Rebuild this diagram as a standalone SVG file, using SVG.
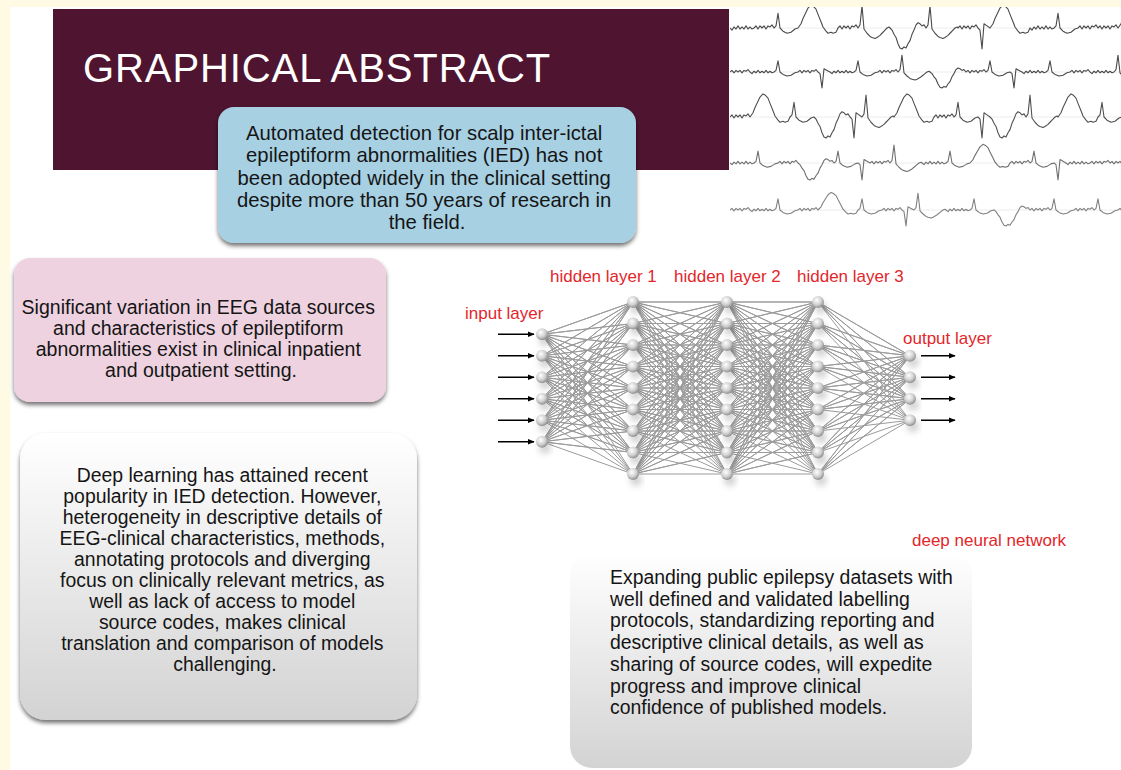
<svg xmlns="http://www.w3.org/2000/svg" width="1121" height="770" viewBox="0 0 1121 770">
<style>
.body{font-family:"Liberation Sans",Arial,sans-serif;fill:#151515}
.red{font-family:"Liberation Sans",Arial,sans-serif;font-size:17px;fill:#e3262b}
.ln{fill:none;stroke:#9b9b9b;stroke-width:1;stroke-linejoin:round;vector-effect:non-scaling-stroke}
.eeg{fill:none;stroke-width:1.1;stroke-linejoin:round;vector-effect:non-scaling-stroke}
.arr{stroke:#000;stroke-width:1.4;marker-end:url(#ah)}
.grid{stroke:#ececec;stroke-width:1}
</style>
<defs>
<filter id="sh" x="-5%" y="-5%" width="110%" height="115%">
<feDropShadow dx="0" dy="3" stdDeviation="2" flood-color="#000" flood-opacity="0.55"/>
</filter>
<filter id="nsh" x="-50%" y="-50%" width="200%" height="200%">
<feDropShadow dx="3" dy="6" stdDeviation="3" flood-color="#000" flood-opacity="0.18"/>
</filter>
<linearGradient id="gg" x1="0" y1="0" x2="0" y2="1">
<stop offset="0" stop-color="#ffffff"/>
<stop offset="1" stop-color="#d3d3d3"/>
</linearGradient>
<radialGradient id="ng" cx="0.4" cy="0.35" r="0.7">
<stop offset="0" stop-color="#ffffff"/>
<stop offset="0.55" stop-color="#d0d0d0"/>
<stop offset="1" stop-color="#858585"/>
</radialGradient>
<circle id="nd" r="6" fill="url(#ng)"/>
<marker id="ah" viewBox="0 0 10 10" refX="9" refY="5" markerWidth="5" markerHeight="5" orient="auto" markerUnits="strokeWidth">
<path d="M0 1L10 5L0 9z" fill="#000"/>
</marker>
<clipPath id="ec"><rect x="730" y="7" width="391" height="243"/></clipPath>
</defs>

<rect x="0" y="0" width="1121" height="770" fill="#fffae4"/>
<rect x="10" y="7" width="1111" height="763" fill="#ffffff"/>

<g id="title">
<rect x="53" y="9" width="676" height="161" fill="#4e1430"/>
<text x="83" y="82" font-family="Liberation Sans, Arial, sans-serif" font-size="40" fill="#ffffff" letter-spacing="0.9">GRAPHICAL ABSTRACT</text>
</g>

<g id="eeg" clip-path="url(#ec)">
<line class="grid" x1="730" y1="28" x2="1121" y2="28"/>
<line class="grid" x1="730" y1="72" x2="1121" y2="72"/>
<line class="grid" x1="730" y1="117" x2="1121" y2="117"/>
<line class="grid" x1="730" y1="163" x2="1121" y2="163"/>
<line class="grid" x1="730" y1="210" x2="1121" y2="210"/>
<g transform="translate(0,28) scale(1,1.05)"><path class="eeg" stroke="#4a4a4a" d="M730 0l2 2 2 -3 2 2 2 -3 2 3 2 -2 2 2 2 -3 2 3 2 -2 2 2 2 -1l2 -2 2 3 2 -3 2 2 2 -2 2 3 2 -3 2 1 2 -2 2 3l2 -2 2 -12 2 14 3 3 4 2 4 -1 4 -3 3 -1l3 -4 2 -5 3 -6 2 -4 3 -3 2 1 3 3 2 5 3 7 2 5 3 4 2 2 3 -1 2 1 3 -1 2 -4l2 -2 2 3 2 -3 2 2 2 -2 2 3 2 -3 2 1 2 -2 2 3l2 -3 2 -18 2 22 3 4 3 3 2 1 3 1 2 -1 3 -2 2 -2 3 -3 2 -2 2 -1 1 1l2 2 2 4 2 3 2 6 2 4 2 1 2 -2 2 1 2 -4 2 -3 2 -6 2 -4 2 -5 2 -2 2 1 2 2 2 -1 2 3l2 -3 2 -18 2 22 3 4 3 3 2 1 3 1 2 -1 3 -2 2 -2 3 -3 2 -2 2 -1 1 1l2 -2 2 3 2 -3 2 2 2 -2 2 3 2 -3 2 1 2 -2 2 3l2 2 2 18 2 -24 3 2 3 2l3 -4 2 -5 3 -6 2 -4 3 -3 2 1 3 3 2 5 3 7 2 5 3 4 2 2 3 -1 2 1 3 -1 2 -4l2 2 2 -3 2 2 2 -3 2 3 2 -2 2 2 2 -3 2 3 2 -2 2 2 2 -1l2 -2 2 -12 2 14 3 3 4 2 4 -1 4 -3 3 -1l2 -2 2 3 2 -3 2 2 2 -2 2 3 2 -3 2 1 2 -2 2 3l2 -2 2 3 2 -3 2 2 2 -2 2 3 2 -3 2 1 2 -2 2 3l3 -4 2 -5 3 -6 2 -4 3 -3 2 1 3 3 2 5 3 7 2 5 3 4 2 2 3 -1 2 1 3 -1 2 -4"/></g>
<g transform="translate(0,72) scale(1,0.8)"><path class="eeg" stroke="#4a4a4a" d="M730 0l2 -2 2 3 2 -3 2 2 2 -2 2 3 2 -3 2 1 2 -2 2 3l2 2 2 -3 2 2 2 -3 2 3 2 -2 2 2 2 -3 2 3 2 -2 2 2 2 -1l2 -2 2 -12 2 14 3 3 4 2 4 -1 4 -3 3 -1l2 -2 2 3 2 -3 2 2 2 -2 2 3 2 -3 2 1 2 -2 2 3l2 2 2 18 2 -24 3 2 3 2l2 2 2 -3 2 2 2 -3 2 3 2 -2 2 2 2 -3 2 3 2 -2 2 2 2 -1l2 -2 2 -12 2 14 3 3 4 2 4 -1 4 -3 3 -1l2 -2 2 3 2 -3 2 2 2 -2 2 3 2 -3 2 1 2 -2 2 3l2 -3 2 -18 2 22 3 4 3 3 2 1 3 1 2 -1 3 -2 2 -2 3 -3 2 -2 2 -1 1 1l2 2 2 4 2 3 2 6 2 4 2 1 2 -2 2 1 2 -4 2 -3 2 -6 2 -4 2 -5 2 -2 2 1 2 2 2 -1 2 3l2 -2 2 3 2 -3 2 2 2 -2 2 3 2 -3 2 1 2 -2 2 3l2 -2 2 -12 2 14 3 3 4 2 4 -1 4 -3 3 -1l2 2 2 18 2 -24 3 2 3 2l2 2 2 -3 2 2 2 -3 2 3 2 -2 2 2 2 -3 2 3 2 -2 2 2 2 -1l2 -2 2 -12 2 14 3 3 4 2 4 -1 4 -3 3 -1l2 -2 2 3 2 -3 2 2 2 -2 2 3 2 -3 2 1 2 -2 2 3l2 2 2 -3 2 2 2 -3 2 3 2 -2 2 2 2 -3 2 3 2 -2 2 2 2 -1l2 -3 2 -18 2 22 3 4 3 3 2 1 3 1 2 -1 3 -2 2 -2 3 -3 2 -2 2 -1 1 1"/></g>
<g transform="translate(0,117) scale(1,1.05)"><path class="eeg" stroke="#505050" d="M730 0l2 -2 2 3 2 -3 2 2 2 -2 2 3 2 -3 2 1 2 -2 2 3l3 -4 2 -5 3 -6 2 -4 3 -3 2 1 3 3 2 5 3 7 2 5 3 4 2 2 3 -1 2 1 3 -1 2 -4l2 -2 2 -12 2 14 3 3 4 2 4 -1 4 -3 3 -1l2 2 2 4 2 3 2 6 2 4 2 1 2 -2 2 1 2 -4 2 -3 2 -6 2 -4 2 -5 2 -2 2 1 2 2 2 -1 2 3l2 2 2 18 2 -24 3 2 3 2l2 -3 2 -18 2 22 3 4 3 3 2 1 3 1 2 -1 3 -2 2 -2 3 -3 2 -2 2 -1 1 1l3 -4 2 -5 3 -6 2 -4 3 -3 2 1 3 3 2 5 3 7 2 5 3 4 2 2 3 -1 2 1 3 -1 2 -4l2 -2 2 3 2 -3 2 2 2 -2 2 3 2 -3 2 1 2 -2 2 3l2 -2 2 -12 2 14 3 3 4 2 4 -1 4 -3 3 -1l2 2 2 18 2 -24 3 2 3 2l2 2 2 4 2 3 2 6 2 4 2 1 2 -2 2 1 2 -4 2 -3 2 -6 2 -4 2 -5 2 -2 2 1 2 2 2 -1 2 3l2 -3 2 -18 2 22 3 4 3 3 2 1 3 1 2 -1 3 -2 2 -2 3 -3 2 -2 2 -1 1 1l3 -4 2 -5 3 -6 2 -4 3 -3 2 1 3 3 2 5 3 7 2 5 3 4 2 2 3 -1 2 1 3 -1 2 -4l2 -2 2 -12 2 14 3 3 4 2 4 -1 4 -3 3 -1l2 2 2 18 2 -24 3 2 3 2l2 -2 2 3 2 -3 2 2 2 -2 2 3 2 -3 2 1 2 -2 2 3"/></g>
<g transform="translate(0,163) scale(1,0.85)"><path class="eeg" stroke="#707070" d="M730 0l2 2 2 -3 2 2 2 -3 2 3 2 -2 2 2 2 -3 2 3 2 -2 2 2 2 -1l2 -2 2 -12 2 14 3 3 4 2 4 -1 4 -3 3 -1l2 -2 2 3 2 -3 2 2 2 -2 2 3 2 -3 2 1 2 -2 2 3l2 2 2 4 2 3 2 6 2 4 2 1 2 -2 2 1 2 -4 2 -3 2 -6 2 -4 2 -5 2 -2 2 1 2 2 2 -1 2 3l2 -2 2 -12 2 14 3 3 4 2 4 -1 4 -3 3 -1l2 2 2 18 2 -24 3 2 3 2l2 -2 2 3 2 -3 2 2 2 -2 2 3 2 -3 2 1 2 -2 2 3l2 -3 2 -18 2 22 3 4 3 3 2 1 3 1 2 -1 3 -2 2 -2 3 -3 2 -2 2 -1 1 1l2 2 2 -3 2 2 2 -3 2 3 2 -2 2 2 2 -3 2 3 2 -2 2 2 2 -1l2 -2 2 -12 2 14 3 3 4 2 4 -1 4 -3 3 -1l3 -4 2 -5 3 -6 2 -4 3 -3 2 1 3 3 2 5 3 7 2 5 3 4 2 2 3 -1 2 1 3 -1 2 -4l2 -2 2 3 2 -3 2 2 2 -2 2 3 2 -3 2 1 2 -2 2 3l2 -2 2 -12 2 14 3 3 4 2 4 -1 4 -3 3 -1l2 2 2 18 2 -24 3 2 3 2l2 2 2 -3 2 2 2 -3 2 3 2 -2 2 2 2 -3 2 3 2 -2 2 2 2 -1l2 -2 2 3 2 -3 2 2 2 -2 2 3 2 -3 2 1 2 -2 2 3l2 -2 2 3 2 -3 2 2 2 -2 2 3 2 -3 2 1 2 -2 2 3"/></g>
<g transform="translate(0,210) scale(1,0.8)"><path class="eeg" stroke="#808080" d="M730 0l2 -2 2 3 2 -3 2 2 2 -2 2 3 2 -3 2 1 2 -2 2 3l2 2 2 -3 2 2 2 -3 2 3 2 -2 2 2 2 -3 2 3 2 -2 2 2 2 -1l2 -2 2 -12 2 14 3 3 4 2 4 -1 4 -3 3 -1l2 -2 2 3 2 -3 2 2 2 -2 2 3 2 -3 2 1 2 -2 2 3l3 -4 2 -5 3 -6 2 -4 3 -3 2 1 3 3 2 5 3 7 2 5 3 4 2 2 3 -1 2 1 3 -1 2 -4l2 -2 2 -12 2 14 3 3 4 2 4 -1 4 -3 3 -1l2 -2 2 3 2 -3 2 2 2 -2 2 3 2 -3 2 1 2 -2 2 3l2 2 2 18 2 -24 3 2 3 2l2 -3 2 -18 2 22 3 4 3 3 2 1 3 1 2 -1 3 -2 2 -2 3 -3 2 -2 2 -1 1 1l2 2 2 -3 2 2 2 -3 2 3 2 -2 2 2 2 -3 2 3 2 -2 2 2 2 -1l2 -2 2 -12 2 14 3 3 4 2 4 -1 4 -3 3 -1l2 2 2 4 2 3 2 6 2 4 2 1 2 -2 2 1 2 -4 2 -3 2 -6 2 -4 2 -5 2 -2 2 1 2 2 2 -1 2 3l2 -2 2 3 2 -3 2 2 2 -2 2 3 2 -3 2 1 2 -2 2 3l2 -2 2 -12 2 14 3 3 4 2 4 -1 4 -3 3 -1l2 -2 2 3 2 -3 2 2 2 -2 2 3 2 -3 2 1 2 -2 2 3l2 -2 2 -12 2 14 3 3 4 2 4 -1 4 -3 3 -1l2 -2 2 3 2 -3 2 2 2 -2 2 3 2 -3 2 1 2 -2 2 3"/></g>
</g>

<g id="box-automated">
<rect x="218" y="107" width="418" height="136" rx="16" fill="#a7d0e3" filter="url(#sh)"/>
<text class="body" font-size="20.3" text-anchor="middle">
<tspan x="427" y="140">Automated detection for scalp inter-ictal</tspan>
<tspan x="427" y="162.3">epileptiform abnormalities (IED) has not</tspan>
<tspan x="427" y="184.6">been adopted widely in the clinical setting</tspan>
<tspan x="427" y="206.9">despite more than 50 years of research in</tspan>
<tspan x="427" y="229.2">the field.</tspan>
</text>
</g>

<g id="box-variation">
<rect x="14" y="258" width="372" height="144" rx="16" fill="#eed2e0" filter="url(#sh)"/>
<text class="body" font-size="19.5" text-anchor="middle">
<tspan x="201" y="314">Significant variation in EEG data sources</tspan>
<tspan x="201" y="335">and characteristics of epileptiform</tspan>
<tspan x="201" y="356">abnormalities exist in clinical inpatient</tspan>
<tspan x="201" y="377">and outpatient setting.</tspan>
</text>
</g>

<g id="box-deep-learning">
<rect x="20" y="433" width="397" height="287" rx="26" fill="url(#gg)" filter="url(#sh)"/>
<text class="body" font-size="19.4" text-anchor="middle">
<tspan x="225" y="482">Deep learning has attained recent</tspan>
<tspan x="225" y="503">popularity in IED detection. However,</tspan>
<tspan x="225" y="524">heterogeneity in descriptive details of</tspan>
<tspan x="225" y="545">EEG-clinical characteristics, methods,</tspan>
<tspan x="225" y="566">annotating protocols and diverging</tspan>
<tspan x="225" y="587">focus on clinically relevant metrics, as</tspan>
<tspan x="225" y="607.5">well as lack of access to model</tspan>
<tspan x="225" y="628.5">source codes, makes clinical</tspan>
<tspan x="225" y="649.5">translation and comparison of models</tspan>
<tspan x="225" y="670.5">challenging.</tspan>
</text>
</g>

<g id="box-expanding">
<rect x="570" y="553" width="402" height="215" rx="22" fill="url(#gg)"/>
<text class="body" font-size="19.4">
<tspan x="610" y="584">Expanding public epilepsy datasets with</tspan>
<tspan x="610" y="605.7">well defined and validated labelling</tspan>
<tspan x="610" y="627.4">protocols, standardizing reporting and</tspan>
<tspan x="610" y="649.1">descriptive clinical details, as well as</tspan>
<tspan x="610" y="670.8">sharing of source codes, will expedite</tspan>
<tspan x="610" y="692.5">progress and improve clinical</tspan>
<tspan x="610" y="714.2">confidence of published models.</tspan>
</text>
</g>

<g id="connectors">
<g transform="translate(542,302) scale(1,21.5)">
<path class="ln" d="M0 1.5L91 0 0 1.5 91 1 0 1.5 91 2 0 1.5 91 3 0 1.5 91 4 0 1.5 91 5 0 1.5 91 6 0 1.5 91 7 0 1.5 91 8M0 2.5L91 0 0 2.5 91 1 0 2.5 91 2 0 2.5 91 3 0 2.5 91 4 0 2.5 91 5 0 2.5 91 6 0 2.5 91 7 0 2.5 91 8M0 3.5L91 0 0 3.5 91 1 0 3.5 91 2 0 3.5 91 3 0 3.5 91 4 0 3.5 91 5 0 3.5 91 6 0 3.5 91 7 0 3.5 91 8M0 4.5L91 0 0 4.5 91 1 0 4.5 91 2 0 4.5 91 3 0 4.5 91 4 0 4.5 91 5 0 4.5 91 6 0 4.5 91 7 0 4.5 91 8M0 5.5L91 0 0 5.5 91 1 0 5.5 91 2 0 5.5 91 3 0 5.5 91 4 0 5.5 91 5 0 5.5 91 6 0 5.5 91 7 0 5.5 91 8M0 6.5L91 0 0 6.5 91 1 0 6.5 91 2 0 6.5 91 3 0 6.5 91 4 0 6.5 91 5 0 6.5 91 6 0 6.5 91 7 0 6.5 91 8"/>
<path class="ln" d="M91 0L185 0 91 0 185 1 91 0 185 2 91 0 185 3 91 0 185 4 91 0 185 5 91 0 185 6 91 0 185 7 91 0 185 8M91 1L185 0 91 1 185 1 91 1 185 2 91 1 185 3 91 1 185 4 91 1 185 5 91 1 185 6 91 1 185 7 91 1 185 8M91 2L185 0 91 2 185 1 91 2 185 2 91 2 185 3 91 2 185 4 91 2 185 5 91 2 185 6 91 2 185 7 91 2 185 8M91 3L185 0 91 3 185 1 91 3 185 2 91 3 185 3 91 3 185 4 91 3 185 5 91 3 185 6 91 3 185 7 91 3 185 8M91 4L185 0 91 4 185 1 91 4 185 2 91 4 185 3 91 4 185 4 91 4 185 5 91 4 185 6 91 4 185 7 91 4 185 8M91 5L185 0 91 5 185 1 91 5 185 2 91 5 185 3 91 5 185 4 91 5 185 5 91 5 185 6 91 5 185 7 91 5 185 8M91 6L185 0 91 6 185 1 91 6 185 2 91 6 185 3 91 6 185 4 91 6 185 5 91 6 185 6 91 6 185 7 91 6 185 8M91 7L185 0 91 7 185 1 91 7 185 2 91 7 185 3 91 7 185 4 91 7 185 5 91 7 185 6 91 7 185 7 91 7 185 8M91 8L185 0 91 8 185 1 91 8 185 2 91 8 185 3 91 8 185 4 91 8 185 5 91 8 185 6 91 8 185 7 91 8 185 8"/>
<path class="ln" d="M185 0L276 0 185 0 276 1 185 0 276 2 185 0 276 3 185 0 276 4 185 0 276 5 185 0 276 6 185 0 276 7 185 0 276 8M185 1L276 0 185 1 276 1 185 1 276 2 185 1 276 3 185 1 276 4 185 1 276 5 185 1 276 6 185 1 276 7 185 1 276 8M185 2L276 0 185 2 276 1 185 2 276 2 185 2 276 3 185 2 276 4 185 2 276 5 185 2 276 6 185 2 276 7 185 2 276 8M185 3L276 0 185 3 276 1 185 3 276 2 185 3 276 3 185 3 276 4 185 3 276 5 185 3 276 6 185 3 276 7 185 3 276 8M185 4L276 0 185 4 276 1 185 4 276 2 185 4 276 3 185 4 276 4 185 4 276 5 185 4 276 6 185 4 276 7 185 4 276 8M185 5L276 0 185 5 276 1 185 5 276 2 185 5 276 3 185 5 276 4 185 5 276 5 185 5 276 6 185 5 276 7 185 5 276 8M185 6L276 0 185 6 276 1 185 6 276 2 185 6 276 3 185 6 276 4 185 6 276 5 185 6 276 6 185 6 276 7 185 6 276 8M185 7L276 0 185 7 276 1 185 7 276 2 185 7 276 3 185 7 276 4 185 7 276 5 185 7 276 6 185 7 276 7 185 7 276 8M185 8L276 0 185 8 276 1 185 8 276 2 185 8 276 3 185 8 276 4 185 8 276 5 185 8 276 6 185 8 276 7 185 8 276 8"/>
<path class="ln" d="M276 0L368 2.5 276 0 368 3.5 276 0 368 4.5 276 0 368 5.5M276 1L368 2.5 276 1 368 3.5 276 1 368 4.5 276 1 368 5.5M276 2L368 2.5 276 2 368 3.5 276 2 368 4.5 276 2 368 5.5M276 3L368 2.5 276 3 368 3.5 276 3 368 4.5 276 3 368 5.5M276 4L368 2.5 276 4 368 3.5 276 4 368 4.5 276 4 368 5.5M276 5L368 2.5 276 5 368 3.5 276 5 368 4.5 276 5 368 5.5M276 6L368 2.5 276 6 368 3.5 276 6 368 4.5 276 6 368 5.5M276 7L368 2.5 276 7 368 3.5 276 7 368 4.5 276 7 368 5.5M276 8L368 2.5 276 8 368 3.5 276 8 368 4.5 276 8 368 5.5"/>
</g>
<line class="arr" x1="498" y1="334.25" x2="534" y2="334.25"/>
<line class="arr" x1="498" y1="355.75" x2="534" y2="355.75"/>
<line class="arr" x1="498" y1="377.25" x2="534" y2="377.25"/>
<line class="arr" x1="498" y1="398.75" x2="534" y2="398.75"/>
<line class="arr" x1="498" y1="420.25" x2="534" y2="420.25"/>
<line class="arr" x1="498" y1="441.75" x2="534" y2="441.75"/>
<line class="arr" x1="921" y1="355.75" x2="955" y2="355.75"/>
<line class="arr" x1="921" y1="377.25" x2="955" y2="377.25"/>
<line class="arr" x1="921" y1="398.75" x2="955" y2="398.75"/>
<line class="arr" x1="921" y1="420.25" x2="955" y2="420.25"/>
</g>

<g id="input-layer" filter="url(#nsh)">
<use href="#nd" x="542" y="334.25"/><use href="#nd" x="542" y="355.75"/><use href="#nd" x="542" y="377.25"/><use href="#nd" x="542" y="398.75"/><use href="#nd" x="542" y="420.25"/><use href="#nd" x="542" y="441.75"/>
</g>
<g id="hidden-layer-1" filter="url(#nsh)">
<use href="#nd" x="633" y="302"/><use href="#nd" x="633" y="323.5"/><use href="#nd" x="633" y="345"/><use href="#nd" x="633" y="366.5"/><use href="#nd" x="633" y="388"/><use href="#nd" x="633" y="409.5"/><use href="#nd" x="633" y="431"/><use href="#nd" x="633" y="452.5"/><use href="#nd" x="633" y="474"/>
</g>
<g id="hidden-layer-2" filter="url(#nsh)">
<use href="#nd" x="727" y="302"/><use href="#nd" x="727" y="323.5"/><use href="#nd" x="727" y="345"/><use href="#nd" x="727" y="366.5"/><use href="#nd" x="727" y="388"/><use href="#nd" x="727" y="409.5"/><use href="#nd" x="727" y="431"/><use href="#nd" x="727" y="452.5"/><use href="#nd" x="727" y="474"/>
</g>
<g id="hidden-layer-3" filter="url(#nsh)">
<use href="#nd" x="818" y="302"/><use href="#nd" x="818" y="323.5"/><use href="#nd" x="818" y="345"/><use href="#nd" x="818" y="366.5"/><use href="#nd" x="818" y="388"/><use href="#nd" x="818" y="409.5"/><use href="#nd" x="818" y="431"/><use href="#nd" x="818" y="452.5"/><use href="#nd" x="818" y="474"/>
</g>
<g id="output-layer" filter="url(#nsh)">
<use href="#nd" x="910" y="355.75"/><use href="#nd" x="910" y="377.25"/><use href="#nd" x="910" y="398.75"/><use href="#nd" x="910" y="420.25"/>
</g>

<g id="labels">
<text class="red" x="465" y="319">input layer</text>
<text class="red" x="550" y="282">hidden layer 1</text>
<text class="red" x="674" y="282">hidden layer 2</text>
<text class="red" x="797" y="282">hidden layer 3</text>
<text class="red" x="903" y="344">output layer</text>
<text class="red" x="912" y="546">deep neural network</text>
</g>
</svg>
